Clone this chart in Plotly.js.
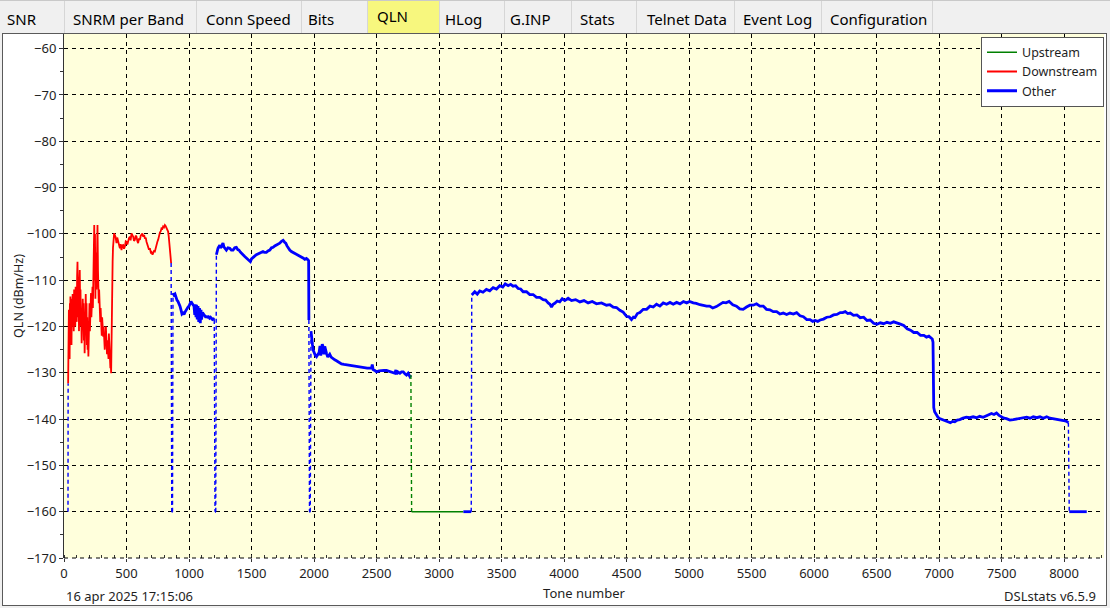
<!DOCTYPE html>
<html>
<head>
<meta charset="utf-8">
<script src="https://cdn.plot.ly/plotly-3.0.1.min.js"></script>
<style>
html,body{margin:0;padding:0;width:1110px;height:608px;overflow:hidden;background:#F0F0F0;font-family:"Noto Sans",sans-serif;}
#tabs{position:absolute;left:0;top:0;width:1110px;height:33px;border-top:1px solid #C9C9C9;box-sizing:border-box;}
.tab{position:absolute;top:0;height:33px;border-right:1px solid #D6D6D6;box-sizing:border-box;font-size:15px;color:#000;}
.tab span{position:absolute;top:8px;line-height:20px;white-space:nowrap;}
.tab.sel{background:#F7F77E;}
.tab.sel span{top:5px;}
#frame{position:absolute;left:2px;top:33px;width:1103px;height:571px;border:1px solid #5A5A5A;background:#FFFFFF;}
#chart{position:absolute;left:0;top:0;width:1110px;height:608px;}
</style>
</head>
<body>
<div id="tabs"></div>
<div id="frame"></div>
<div id="chart"></div>
<script>
// ---------------- tab strip ----------------
const tabLabels = ["SNR","SNRM per Band","Conn Speed","Bits","QLN","HLog","G.INP","Stats","Telnet Data","Event Log","Configuration"];
const selectedTab = "QLN";
const tabEdges = [0,65,197,302,368,440,505,572,637,735,822,933];
const tabTextStart = [7,73,206,308,377,445,510,580,647,743,830];

// ---------------- chart text ----------------
const chartDate = "16 apr 2025 17:15:06";
const chartVersion = "DSLstats v6.5.9";
const xTitle = "Tone number";
const yTitle = "QLN (dBm/Hz)";
const noSignal = -160;

// ---------------- series: Upstream ----------------
const upTone = [2781, 3195];
const upQLN  = [-160, -160];

// ---------------- series: Downstream ----------------
const downTone = [
 33,35,37,39,41,43,45,47,49,51,54,57,60,63,66,69,72,75,78,81,84,87,90,93,96,99,102,105,108,111,
 114,117,120,123,126,129,132,135,138,141,144,147,150,153,156,159,162,165,168,171,174,177,180,183,186,189,192,195,198,201,
 204,207,210,213,216,219,222,225,228,231,234,237,239,242,245,248,251,254,257,260,263,266,268,272,275,278,281,284,287,290,
 293,296,299,302,305,308,311,314,317,320,323,326,329,332,335,338,341,344,347,350,353,356,359,362,365,368,371,374,377,379,
 381,383,386,389,392,396,401,
 412,420,426,433,440,447,453,460,466,473,480,487,494,500,507,514,520,527,533,540,547,553,560,567,573,580,587,593,600,607,
 614,620,627,634,641,647,654,660,667,673,680,687,694,700,708,714,720,727,734,740,747,754,761,767,774,780,787,793,800,807,
 813,820,827,833,838,841,846,852,857
];
const downQLN = [
 -132.3,-121,-130,-116.4,-126,-118,-127,-115,-123,-113.5,-121,-116,-124,-114,-120,-113,-119,-115,-121,-112,-118,-113,-120,-111.4,-117,-114,-119,-109,-106,-114,
 -118,-112,-121,-110,-107.8,-115,-112,-120,-116,-123.6,-117,-122,-114,-120,-115,-123,-117,-125.8,-118,-122,-113,-120,-115,-124,-118,-125,-121,-126.5,-119,-124,
 -115,-121,-114,-119,-112.8,-118,-114,-117,-111.4,-116,-108,-113,-104,-98.1,-110,-100,-114,-104,-109,-112,-105,-103,-98.1,-108,-111,-115,-112,-118,-115.7,-119,
 -116,-121,-117,-122,-118,-121,-119,-122.2,-120,-123,-121,-125,-121.5,-124,-120,-125,-122,-126,-123,-126.5,-124,-127,-121.5,-124,-127,-126,-129,-128,-130.1,-126,
 -118,-113,-109,-106,-103,-101,-99.9,
 -100.6,-102,-100.8,-101.7,-102.6,-103.1,-102.2,-103.5,-102.5,-102.4,-103.2,-102.7,-101.6,-101.7,-102.3,-101.2,-100.9,-100.6,-101.4,-99.9,-100.3,-100.6,-101.5,-101.3,-100.4,-100.6,-101.6,-102,-101,-101.3,
 -100.4,-100.2,-99.9,-100.6,-100.2,-101,-100.8,-101.7,-102.3,-102.6,-103.4,-103.1,-104,-103.9,-104.5,-104.1,-103.7,-103.8,-102.9,-102.4,-101.7,-101.2,-100.2,-99.7,-99.4,-98.8,-98.9,-98.4,-98.6,-98.1,
 -98.3,-98.8,-99.2,-99.5,-100.6,-101.7,-102.8,-104.2,-106.3
];

// ---------------- series: Other ----------------
const otherTone = [
 32,
 862,868,
 872,880,888,896,904,912,920,928,936,944,952,960,968,976,984,992,1000,1008,1016,1024,1032,1040,1046,1050,1056,1060,1066,1072,1078,1084,1090,1096,
 1100,1108,1116,1124,1132,1140,1148,1156,1164,1172,1180,1188,1196,1202,
 1208,1214,
 1219,1226,1232,1239,1246,1252,1259,1266,1272,1279,1286,1292,1299,1312,1326,1339,1352,1366,1379,1390,1400,1410,1419,1432,1446,1459,1472,1482,1491,1500,
 1512,1525,1539,1552,1566,1579,1592,1606,1619,1632,1646,1660,1673,1686,1699,1712,1726,1740,1753,1765,1774,1784,1793,1806,1819,1833,1846,1860,1873,1886,
 1899,1912,1926,1939,1953,1957,1959,
 1964,1970,
 1976,1982,1988,1995,2001,2010,2020,2030,2041,2048,2054,2060,2066,2073,2080,2086,2093,2100,2110,2118,2126,2137,2148,2157,2166,2180,2193,2206,2220,2240,
 2260,2280,2300,2333,2366,2386,2406,2426,2446,2460,2466,2473,2486,2500,2520,2540,2560,2580,2600,2620,2635,2647,2655,2662,2670,2687,2700,2714,2727,2740,
 2753,2767,2775,
 3258,
 3262,3286,3306,3326,3352,3379,3406,3433,3460,3486,3510,3530,3553,3573,3593,3613,3633,3653,3673,3700,3726,3753,3780,3806,3833,3853,3873,3888,3900,3913,
 3926,3946,3966,3986,4006,4033,4060,4093,4127,4160,4193,4226,4260,4300,4340,4367,4394,4420,4447,4473,4500,4520,4540,4555,4567,4587,4607,4634,4661,4688,
 4714,4740,4767,4794,4821,4848,4874,4901,4928,4955,4981,5005,5034,5058,5088,5112,5141,5165,5190,5219,5245,5272,5296,5321,5350,5380,5406,5433,5460,5487,
 5513,5540,5567,5594,5620,5647,5674,5701,5727,5754,5781,5808,5835,5861,5888,5915,5942,5968,5990,6009,6030,6049,6076,6102,6130,6156,6183,6210,6230,6250,
 6270,6290,6316,6343,6370,6397,6424,6450,6477,6504,6530,6557,6584,6611,6637,6664,6691,6718,6745,6772,6798,6825,6852,6879,6900,6919,6935,6946,6952,6956,
 6958,6965,6979,6992,7005,7025,7045,7068,7091,7108,7126,7146,7166,7192,7219,7246,7273,7300,7326,7353,7380,7400,7420,7440,7460,7480,7500,7520,7540,7567,
 7594,7620,7647,7674,7701,7728,7754,7781,7808,7835,7861,7888,7915,7942,7968,7990,8008,8022,8035,
 8042,8182
];
const otherQLN = [
 -160,
 -160,-160,
 -112.8,-113.2,-113.0,-113.9,-114.3,-114.6,-115.0,-115.6,-116.4,-117.3,-117.1,-117.4,-116.9,-116.4,-116.0,-115.8,-115.6,-115.0,-114.6,-115.0,-115.3,-115.6,-117.5,-115.2,-118.0,-115.3,-118.5,-115.6,-119.0,-116.0,-119.3,-116.4,
 -118.5,-117.0,-117.3,-117.6,-117.9,-117.9,-118.0,-117.9,-118.2,-118.0,-118.2,-118.5,-118.4,-118.6,
 -160,-160,
 -104.5,-103.6,-103.1,-102.8,-102.4,-103.0,-102.8,-102.3,-102.0,-102.8,-103.1,-103.4,-103.5,-103.0,-103.1,-103.5,-103.5,-103.0,-102.9,-103.4,-103.5,-103.9,-104.2,-104.6,-104.9,-105.2,-105.6,-105.8,-106.0,-105.4,
 -105.0,-104.8,-104.5,-104.3,-104.2,-104.0,-103.8,-104.0,-104.0,-103.7,-103.5,-103.0,-102.9,-102.6,-102.4,-102.2,-102.0,-101.6,-101.4,-101.8,-102.0,-102.6,-103.1,-103.5,-103.8,-104.0,-104.2,-104.4,-104.5,-104.7,
 -104.9,-105.2,-105.5,-105.3,-105.6,-105.8,-118.6,
 -160,-160,
 -121.0,-123.5,-124.0,-125.2,-125.8,-126.2,-126.5,-126.0,-125.6,-124.2,-126.3,-125.1,-123.8,-124.4,-126.0,-124.3,-125.5,-125.8,-126.6,-126.2,-126.0,-126.6,-126.9,-127.0,-127.2,-127.4,-127.6,-127.8,-128.1,-128.2,
 -128.3,-128.4,-128.5,-128.6,-128.7,-128.9,-129.0,-129.0,-129.0,-129.0,-128.2,-129.3,-129.5,-129.8,-129.6,-129.5,-129.5,-129.5,-129.7,-129.8,-130.0,-130.1,-129.4,-130.3,-129.8,-130.1,-129.8,-129.8,-130.2,-130.5,
 -130.1,-130.8,-130.5,
 -160,
 -113.2,-112.5,-113.0,-112.3,-112.6,-112.0,-112.3,-111.6,-111.9,-111.2,-111.5,-110.8,-111.2,-110.9,-111.3,-111.2,-111.8,-111.9,-112.5,-112.5,-113.1,-113.1,-113.7,-113.7,-114.2,-114.3,-114.9,-115.2,-115.8,-115.2,
 -115.0,-114.5,-114.7,-114.0,-114.4,-113.9,-114.4,-114.2,-114.7,-114.4,-114.9,-114.6,-115.1,-114.9,-115.4,-115.3,-115.8,-115.9,-116.5,-116.9,-117.8,-117.9,-118.5,-118.0,-118.1,-117.2,-117.0,-116.3,-116.3,-115.6,
 -115.8,-115.2,-115.6,-114.9,-115.2,-114.8,-115.2,-114.8,-115.1,-114.6,-114.9,-114.6,-114.9,-115.0,-115.3,-115.5,-115.6,-115.6,-116.0,-115.7,-115.3,-114.8,-114.9,-114.6,-115.3,-115.6,-116.2,-116.3,-115.8,-115.4,
 -115.4,-115.1,-115.6,-115.6,-116.3,-116.4,-116.8,-116.8,-117.3,-117.1,-117.4,-117.1,-117.3,-117.0,-117.7,-117.9,-118.5,-118.5,-118.9,-118.7,-118.9,-118.6,-118.4,-118.0,-117.9,-117.5,-117.4,-117.0,-117.0,-116.8,
 -117.2,-117.1,-117.6,-117.5,-118.1,-118.0,-118.7,-118.6,-119.3,-119.5,-119.2,-119.4,-119.1,-119.3,-119.0,-119.2,-119.5,-119.8,-120.5,-120.8,-121.3,-121.3,-121.9,-121.9,-122.3,-122.1,-122.5,-122.7,-123.4,-130.0,
 -137.5,-138.4,-139.1,-139.6,-139.9,-140.1,-140.3,-140.5,-140.8,-140.5,-140.6,-140.2,-140.1,-139.8,-139.6,-139.7,-139.5,-139.7,-139.4,-139.6,-139.3,-139.1,-138.8,-139.0,-138.7,-139.2,-139.6,-139.8,-139.9,-140.2,
 -140.1,-140.0,-139.9,-139.7,-139.6,-139.8,-139.5,-139.7,-139.5,-139.8,-139.5,-139.8,-139.9,-140.0,-140.1,-140.3,-140.4,-140.5,-140.8,
 -160,-160
];

// ---------------- build tabs ----------------
const tabsEl = document.getElementById('tabs');
tabLabels.forEach((lab, i) => {
  const d = document.createElement('div');
  d.className = 'tab' + (lab === selectedTab ? ' sel' : '');
  d.style.left = tabEdges[i] + 'px';
  d.style.width = (tabEdges[i + 1] - tabEdges[i]) + 'px';
  const s = document.createElement('span');
  s.textContent = lab;
  s.style.left = (tabTextStart[i] - tabEdges[i]) + 'px';
  d.appendChild(s);
  tabsEl.appendChild(d);
});

// ---------------- build traces ----------------
const seriesDefs = [
  {name: 'Upstream',   tone: upTone,    qln: upQLN,    color: '#008000', width: 1.6},
  {name: 'Downstream', tone: downTone,  qln: downQLN,  color: '#FF0000', width: 1.8},
  {name: 'Other',      tone: otherTone, qln: otherQLN, color: '#0000FF', width: 2.8}
];
const pts = [];
seriesDefs.forEach((s, si) => s.tone.forEach((t, i) => pts.push({x: t, y: s.qln[i], s: si})));
pts.sort((a, b) => a.x - b.x);
const parts = seriesDefs.map(() => ({solid: {x: [], y: []}, dash: {x: [], y: []}}));
function addSeg(tgt, a, b) {
  const n = tgt.x.length;
  if (n && tgt.x[n - 1] === a.x && tgt.y[n - 1] === a.y) {
    tgt.x.push(b.x); tgt.y.push(b.y);
  } else {
    if (n) { tgt.x.push(null); tgt.y.push(null); }
    tgt.x.push(a.x, b.x); tgt.y.push(a.y, b.y);
  }
}
for (let i = 1; i < pts.length; i++) {
  const a = pts[i - 1], b = pts[i];
  const aFloor = a.y === noSignal, bFloor = b.y === noSignal;
  const dashed = aFloor !== bFloor;
  const owner = dashed ? (aFloor ? a.s : b.s) : b.s;
  addSeg(parts[owner][dashed ? 'dash' : 'solid'], a, b);
}
const traces = [];
seriesDefs.forEach((s, si) => {
  traces.push({
    type: 'scatter', mode: 'lines', name: s.name, legendgroup: s.name,
    x: parts[si].solid.x, y: parts[si].solid.y, connectgaps: false,
    line: {color: s.color, width: s.width}, hoverinfo: 'skip'
  });
});
seriesDefs.forEach((s, si) => {
  traces.push({
    type: 'scatter', mode: 'lines', name: s.name, legendgroup: s.name, showlegend: false,
    x: parts[si].dash.x, y: parts[si].dash.y, connectgaps: false,
    line: {color: s.color, width: 1.4, dash: '4px,3px'}, hoverinfo: 'skip'
  });
});

const font = {family: '"Noto Sans", sans-serif', size: 13, color: '#1E1E1E'};
const layout = {
  width: 1110, height: 608,
  margin: {l: 64, r: 6, t: 34, b: 50, pad: 0},
  paper_bgcolor: 'rgba(0,0,0,0)',
  plot_bgcolor: '#FFFFDC',
  font: font,
  showlegend: true,
  legend: {
    x: 1, xanchor: 'right', y: 0.995, yanchor: 'top',
    bgcolor: '#FFFFFF', bordercolor: '#555555', borderwidth: 1,
    font: {family: font.family, size: 12.5, color: '#1E1E1E'},
    traceorder: 'normal'
  },
  xaxis: {
    range: [0, 8320], tick0: 0, dtick: 500, tickmode: 'linear',
    showgrid: true, gridcolor: '#000000', gridwidth: 1, griddash: '4px,4px',
    zeroline: false, showline: false,
    ticks: 'outside', ticklen: 3, tickcolor: '#333333',
    minor: {ticks: 'inside', ticklen: 3, dtick: 100, tickcolor: '#333333', showgrid: false},
    tickfont: {family: font.family, size: 13, color: '#1E1E1E'},
    title: {text: xTitle, font: {family: font.family, size: 13, color: '#1E1E1E'}, standoff: 8},
    automargin: false, fixedrange: true
  },
  yaxis: {
    range: [-170, -56.83], tick0: -170, dtick: 10, tickmode: 'linear',
    showgrid: true, gridcolor: '#000000', gridwidth: 1, griddash: '4px,4px',
    zeroline: false, showline: true, linecolor: '#333333', linewidth: 1,
    ticks: 'outside', ticklen: 4, tickcolor: '#333333',
    minor: {ticks: 'outside', ticklen: 3, dtick: 5, tickcolor: '#333333', showgrid: false},
    tickfont: {family: font.family, size: 13, color: '#1E1E1E'},
    title: {text: yTitle, font: {family: font.family, size: 12.5, color: '#1E1E1E'}, standoff: 0},
    automargin: false, fixedrange: true
  },
  shapes: [
    {type: 'line', xref: 'paper', yref: 'paper', x0: 0, x1: 1, y0: 0, y1: 0,
     line: {color: '#000000', width: 1, dash: '4px,4px'}, layer: 'above'}
  ],
  annotations: [
    {text: chartDate, xref: 'paper', yref: 'paper', x: 0, y: -0.0725, xanchor: 'left', yanchor: 'middle',
     showarrow: false, font: {family: font.family, size: 13, color: '#1E1E1E'}},
    {text: chartVersion, xref: 'paper', yref: 'paper', x: 0.9942, y: -0.0725, xanchor: 'right', yanchor: 'middle',
     showarrow: false, font: {family: font.family, size: 13, color: '#1E1E1E'}}
  ]
};
Plotly.newPlot('chart', traces, layout, {displayModeBar: false, staticPlot: true});
</script>
</body>
</html>
